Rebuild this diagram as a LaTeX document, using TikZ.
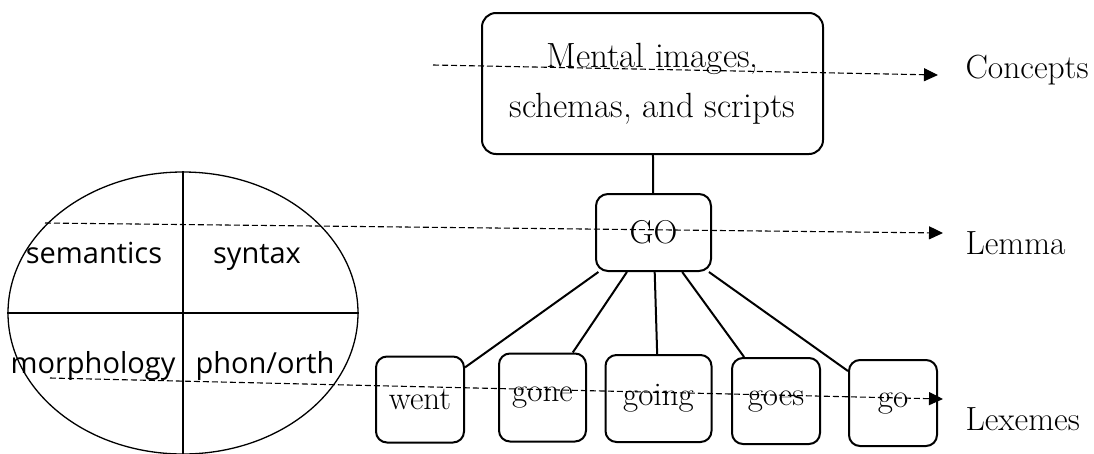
\documentclass[tikz,border=0pt]{standalone}
\usepackage{fontspec}
\newfontfamily\partsfont{Open Sans}
\usetikzlibrary{arrows.meta, shapes.geometric}

\begin{document}
\begin{tikzpicture}[
  x=1pt, y=-1pt,
  box/.style={rectangle, draw, line width=2pt, rounded corners=14pt, align=center, font=\fontsize{35}{50}\selectfont},
  lex/.style={rectangle, draw, line width=2pt, rounded corners=11pt, minimum width=88pt, minimum height=86pt, font=\fontsize{33}{38}\selectfont},
  level/.style={anchor=base west, font=\fontsize{33.5}{40}\selectfont},
  part/.style={anchor=base, font=\partsfont\fontsize{29}{35}\selectfont},
  link/.style={line width=2pt},
  dasharrow/.style={dash pattern=on 6pt off 3pt, line width=1.1pt, -{Triangle[length=14pt, width=13pt]}}
]
  \useasboundingbox (0,0) rectangle (1094,453);

  % concept and lemma level
  \node[box, minimum width=341pt, minimum height=141pt] (concept) at (652.5,83.5) {Mental images,\\schemas, and scripts};
  \node[box, rounded corners=12pt, font=\fontsize{33}{38}\selectfont, minimum width=115pt, minimum height=77pt] (lemma) at (653.5,232.5) {GO};

  % lexemes
  \node[lex] (went) at (420,399.5) {went};
  \node[lex, minimum width=87pt, minimum height=88pt] (gone) at (542.5,397.5) {gone};
  \node[lex, minimum width=106pt, minimum height=87pt] (going) at (658.5,398.5) {going};
  \node[lex] (goes) at (776,401) {goes};
  \node[lex] (go) at (893,403) {go};

  \draw[link] (concept) -- (lemma);
  \draw[link] (lemma) -- (went);
  \draw[link] (lemma) -- (gone);
  \draw[link] (lemma) -- (going);
  \draw[link] (lemma) -- (goes);
  \draw[link] (lemma) -- (go);

  % lemma content
  \node[ellipse, draw, line width=1.3pt, minimum width=350pt, minimum height=282pt, inner sep=0pt] (info) at (183,313) {};
  \draw[line width=1.3pt] (info.north) -- (info.south);
  \draw[line width=1.3pt] (info.west) -- (info.east);
  \node[part] (sem) at (94,263) {semantics};
  \node[part] (syn) at (257,263) {syntax};
  \node[part] (mor) at (93,373) {morphology};
  \node[part] (pho) at (265,373) {phon/orth};

  % levels
  \node[level] (concepts) at (962,78) {Concepts};
  \node[level] (lemmalbl) at (962,254) {Lemma};
  \node[level] (lexemes) at (962,430) {Lexemes};

  \coordinate (c1) at (433,65);
  \coordinate (c2) at (938,75);
  \coordinate (l1) at (45,223);
  \coordinate (l2) at (943,233);
  \coordinate (x1) at (50,378);
  \coordinate (x2) at (943,399);
  \draw[dasharrow] (c1) -- (c2);
  \draw[dasharrow] (l1) -- (l2);
  \draw[dasharrow] (x1) -- (x2);
\end{tikzpicture}
\end{document}
